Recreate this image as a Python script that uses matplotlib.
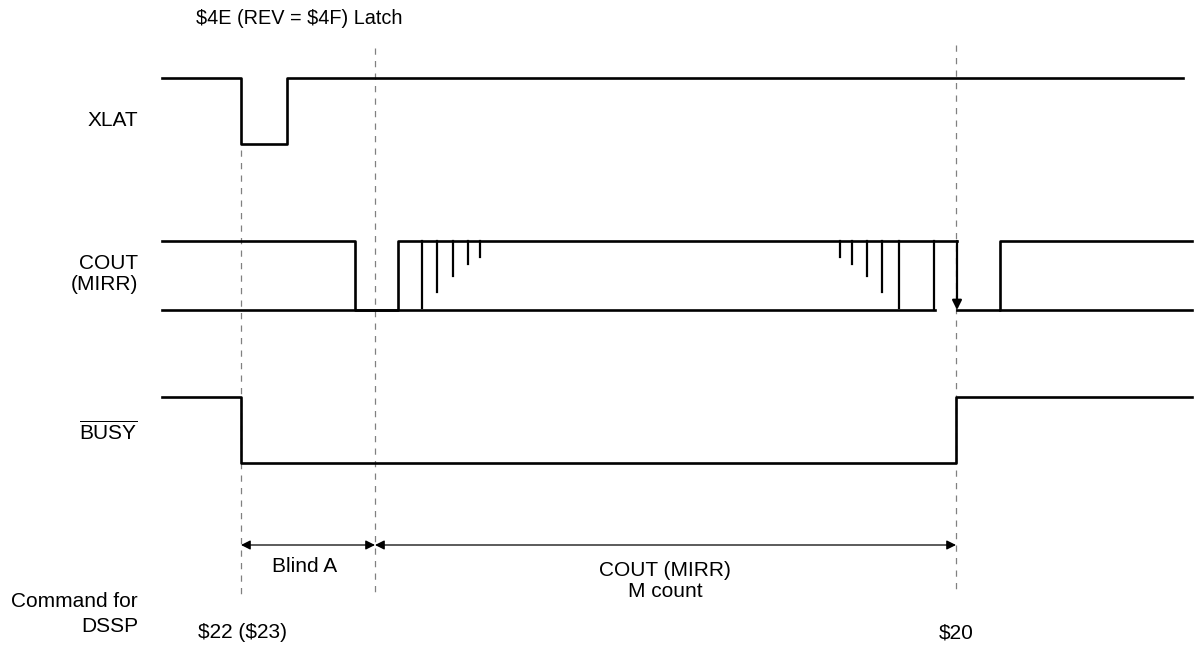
import matplotlib
matplotlib.use("Agg")
import matplotlib.pyplot as plt

plt.rcParams['font.family'] = ['Liberation Sans', 'DejaVu Sans']
plt.rcParams['mathtext.fontset'] = 'custom'
plt.rcParams['mathtext.rm'] = 'Liberation Sans'

# signal edges: (time, level) with steps-post, time in diagram units
xlat_t = [162, 241, 287, 1183]
xlat_lvl = [1, 0, 1, 1]

cout_t = [162, 355, 398, 957]
cout_lvl = [1, 0, 1, 1]
cout_low_end = 935          # lower rail of the counting region
cout_t2 = [957, 1000, 1192]
cout_lvl2 = [0, 1, 1]

# MIRR count pulses (time, bottom level)
pulse_t = [422, 437, 453, 468, 480, 840, 852, 867, 882, 899, 934]
pulse_lvl = [0.03, 0.26, 0.49, 0.67, 0.77, 0.77, 0.67, 0.49, 0.26, 0.03, 0.0]

busy_t = [162, 241, 956, 1192]
busy_lvl = [1, 0, 1, 1]

# row placement: (high y, low y)
rows = {'XLAT': (78, 144), 'COUT': (241, 310), 'BUSY': (397, 463)}

markers = [241, 375, 956]
marker_span = [(150, 597), (48, 592), (45, 592)]

fig = plt.figure(figsize=(12, 6.46), dpi=100)
ax = fig.add_axes([0, 0, 1, 1])
ax.set_xlim(0, 1200)
ax.set_ylim(646, 0)
ax.axis('off')

def lvl(row, v):
    hi, lo = rows[row]
    return lo + (hi - lo) * v

# dashed timing markers behind the signals
for x, (y0, y1) in zip(markers, marker_span):
    ax.plot([x, x], [y0, y1], color='#808080', lw=0.9, dashes=(5, 5), zorder=1)

lw = 1.9
ax.plot(xlat_t, [lvl('XLAT', v) for v in xlat_lvl], drawstyle='steps-post', color='black', lw=lw, zorder=3)
ax.plot(cout_t, [lvl('COUT', v) for v in cout_lvl], drawstyle='steps-post', color='black', lw=lw, zorder=3)
ax.plot([cout_t[0], cout_low_end], [lvl('COUT', 0)] * 2, color='black', lw=lw, zorder=3)
ax.plot(cout_t2, [lvl('COUT', v) for v in cout_lvl2], drawstyle='steps-post', color='black', lw=lw, zorder=3)
ax.plot([cout_t2[1], cout_t2[-1]], [lvl('COUT', 0)] * 2, color='black', lw=lw, zorder=3)
for t, b in zip(pulse_t, pulse_lvl):
    ax.plot([t, t], [lvl('COUT', 1), lvl('COUT', b)], color='black', lw=1.6, zorder=3)
ax.annotate('', xy=(cout_t[-1], lvl('COUT', 0)), xytext=(cout_t[-1], lvl('COUT', 1)),
            arrowprops=dict(arrowstyle='-|>', color='black', lw=1.6,
                            mutation_scale=14, shrinkA=0, shrinkB=0), zorder=3)
ax.plot(busy_t, [lvl('BUSY', v) for v in busy_lvl], drawstyle='steps-post', color='black', lw=lw, zorder=3)

# dimension arrows
for a, b in [(markers[0], markers[1]), (markers[1], markers[2])]:
    ax.annotate('', xy=(b, 545), xytext=(a, 545),
                arrowprops=dict(arrowstyle='<|-|>', color='black', lw=0.9,
                                mutation_scale=14, shrinkA=0, shrinkB=0))

fs = 15
ax.text(196, 18, r'\$4E (REV = \$4F) Latch', fontsize=14.3, ha='left', va='center')
ax.text(138, 120, 'XLAT', fontsize=fs, ha='right', va='center')
ax.text(138, 274, 'COUT\n(MIRR)', fontsize=fs, ha='right', va='center', linespacing=1.08)
ax.text(138, 432, r'$\overline{\mathrm{BUSY}}$', fontsize=fs, ha='right', va='center')
ax.text(138, 614, 'Command for\nDSSP', fontsize=fs, ha='right', va='center', linespacing=1.35)
ax.text(305, 567, 'Blind A', fontsize=fs, ha='center', va='center')
ax.text(665, 581, 'COUT (MIRR)\nM count', fontsize=fs, ha='center', va='center', linespacing=1.15)
ax.text(242, 633, r'\$22 (\$23)', fontsize=fs, ha='center', va='center')
ax.text(956, 633, r'\$20', fontsize=fs, ha='center', va='center')

fig.savefig('out.png', dpi=100)
